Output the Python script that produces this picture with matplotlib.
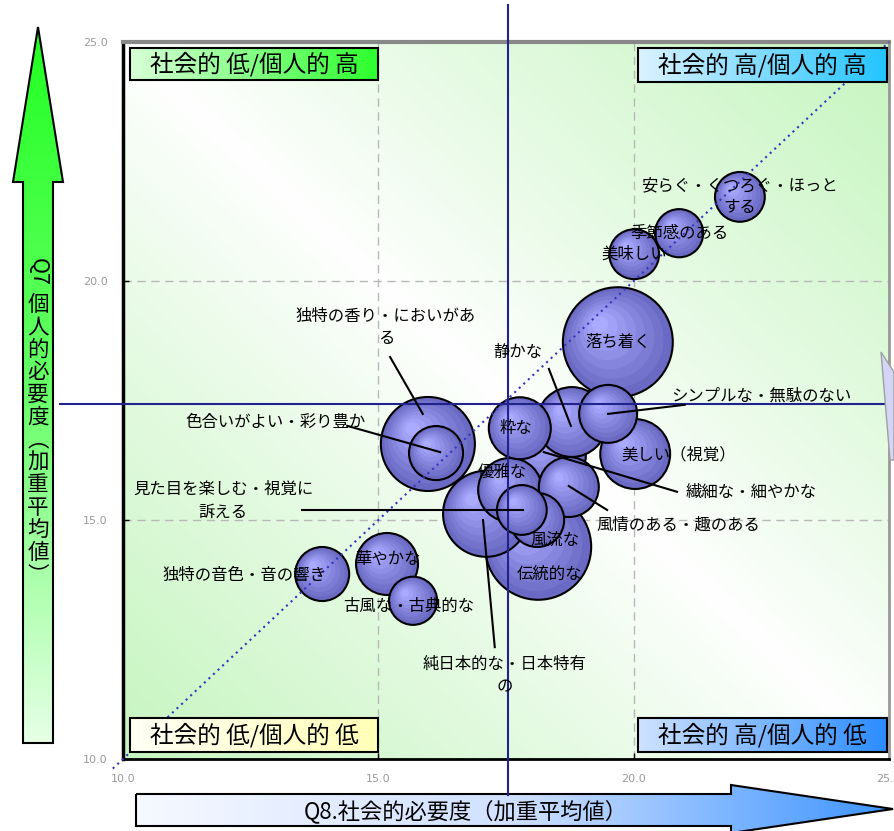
import numpy as np
import matplotlib
matplotlib.use("Agg")
import matplotlib.pyplot as plt
from matplotlib.patches import Polygon, Rectangle
from matplotlib.colors import LinearSegmentedColormap, to_rgb
from matplotlib.transforms import offset_copy

plt.rcParams['font.family'] = ['Noto Sans CJK JP', 'DejaVu Sans']

# ---- data ----
labels = [
    '安らぐ・くつろぐ・ほっと\nする', '季節感のある', '美味しい', '落ち着く',
    'シンプルな・無駄のない', '静かな', '粋な', '美しい（視覚）',
    '繊細な・細やかな', '風情のある・趣のある', '優雅な', '見た目を楽しむ・視覚に\n訴える',
    '風流な', '伝統的な', '純日本的な・日本特有\nの', '独特の香り・においがあ\nる',
    '色合いがよい・彩り豊か', '独特の音色・音の響き', '華やかな', '古風な・古典的な',
]
social = [22.08, 20.89, 20.01, 19.69, 19.50, 18.79, 17.77, 20.03, 18.32, 18.73,
          17.58, 17.81, 18.11, 18.13, 17.11, 15.97, 16.13, 13.90, 15.17, 15.68]
personal = [21.76, 21.00, 20.56, 18.72, 17.22, 17.05, 16.92, 16.38, 16.36, 15.69,
            15.63, 15.21, 15.00, 14.44, 15.13, 16.59, 16.40, 13.87, 14.08, 13.31]
sizes = [62, 58, 62, 302, 84, 122, 96, 122, 144, 90,
         102, 62, 73, 281, 185, 221, 73, 73, 96, 58]

mean_x = 17.54
mean_y = 17.43
ticks = [10, 15, 20, 25]
quadrants = ['社会的 低/個人的 高', '社会的 高/個人的 高', '社会的 低/個人的 低', '社会的 高/個人的 低']
xlabel = 'Q8.社会的必要度（加重平均値）'
ylabel_head = 'Q7'
ylabel_body = '個人的必要度︵加重平均値︶'

# ---- layout (label positions / leader lines, data coords) ----
label_pos = [
    (22.08, 21.76), (20.89, 21.00), (20.01, 20.56), (19.69, 18.72),
    (22.51, 17.59), (17.73, 18.51), (17.70, 16.92), (20.89, 16.36),
    (22.30, 15.59), (20.87, 14.90), (17.42, 15.98), (11.96, 15.40),
    (18.46, 14.58), (18.36, 13.87), (17.48, 11.74), (15.15, 19.02),
    (12.98, 17.05), (12.37, 13.83), (15.19, 14.18), (15.60, 13.20),
]
leaders = [
    ((15.23, 18.41), (15.87, 17.22)),
    ((14.39, 16.97), (16.21, 16.42)),
    ((13.50, 15.21), (17.83, 15.21)),
    ((17.28, 12.34), (17.05, 15.00)),
    ((18.34, 18.16), (18.77, 16.97)),
    ((20.85, 15.59), (18.24, 16.42)),
    ((19.48, 15.21), (18.73, 15.71)),
    ((21.00, 17.41), (19.50, 17.22)),
]
quad_boxes = [
    (10.14, 14.99, 24.21, 24.87, '#d8ffd8', '#2cff2c'),
    (20.08, 24.96, 24.16, 24.87, '#dcf2ff', '#22c4ff'),
    (10.14, 14.99, 10.15, 10.86, '#fffff6', '#ffffb8'),
    (20.08, 24.96, 10.15, 10.86, '#cfe2ff', '#2a8cff'),
]

W, H = 894, 831
fig = plt.figure(figsize=(W / 100, H / 100), dpi=100)

# background layer in pixel coords for the axis arrows
bg = fig.add_axes([0, 0, 1, 1], zorder=-1)
bg.set_xlim(0, W)
bg.set_ylim(H, 0)
bg.axis('off')


def grad_poly(axis, pts, colors, horizontal, extent):
    cmap = LinearSegmentedColormap.from_list('g', colors)
    g = np.linspace(0, 1, 256)
    g = g.reshape(1, -1) if horizontal else g.reshape(-1, 1)
    im = axis.imshow(g, cmap=cmap, extent=extent, aspect='auto', origin='upper',
                     interpolation='bilinear', zorder=1)
    poly = Polygon(pts, closed=True, fill=False, ec='black', lw=1.5, zorder=2)
    axis.add_patch(poly)
    im.set_clip_path(poly)


# y arrow (green)
yarrow = [(23, 743), (23, 182), (13, 182), (38, 27), (63, 182), (53, 182), (53, 743)]
grad_poly(bg, yarrow, ['#22ff22', '#66ff66', '#e6ffe6'], False, [13, 63, 743, 27])
bg.text(38, 272, ylabel_head, rotation=-90, ha='center', va='center', fontsize=15.5)
bg.text(38, 440, '\n'.join(ylabel_body), ha='center', va='center', fontsize=15.5,
        linespacing=1.03)

# x arrow (blue)
xarrow = [(136, 794), (731, 794), (731, 785), (893, 809), (731, 833), (731, 826), (136, 826)]
grad_poly(bg, xarrow, ['#f6f9ff', '#cfe0ff', '#3d94ff'], True, [136, 893, 833, 785])
bg.text(466, 811, xlabel, ha='center', va='center', fontsize=16)

# stray shape at the right edge
fig.add_artist(Polygon([(881, 352), (894, 372), (894, 460), (890, 460)], closed=True,
                       fc='#d4d4f6', ec='#a0a0a0', lw=1, transform=bg.transData))

# ---- main axes ----
ax = fig.add_axes([123 / W, 72 / H, 766 / W, 717 / H])
ax.set_xlim(10, 25)
ax.set_ylim(10, 25)

# plot area gradient: green toward bottom-left / top-right, white along the other diagonal
u, v = np.meshgrid(np.linspace(0, 1, 300), np.linspace(0, 1, 300))
f = np.abs(u + v - 1) ** 0.9
green = np.array(to_rgb('#c6f5c0'))
img = (1 - f)[..., None] * np.ones(3) + f[..., None] * green
ax.imshow(img, extent=[10, 25, 10, 25], origin='lower', aspect='auto', zorder=0)

ax.set_axisbelow(True)
ax.grid(True, ls=(0, (6, 4)), color='#b8b8b8', lw=1)
ax.set_xticks(ticks)
ax.set_yticks(ticks)
ax.set_xticklabels([f'{t:.1f}' for t in ticks], family='DejaVu Sans')
ax.set_yticklabels([f'{t:.1f}' for t in ticks], family='DejaVu Sans')
ax.tick_params(direction='in', length=4, width=1, labelsize=8, labelcolor='#999999', pad=11)
ax.spines['left'].set_linewidth(2.5)
ax.spines['bottom'].set_linewidth(2)
ax.spines['top'].set_color('#888888')
ax.spines['top'].set_linewidth(3)
ax.spines['right'].set_color('#999999')
ax.spines['right'].set_linewidth(2)

# bubbles: larger ones drawn first
dark = np.array(to_rgb('#6a6ac4'))
light = np.array(to_rgb('#aaaaff'))
n_layers = 8
order = np.argsort(-np.array(sizes), kind='stable')
for rank, i in enumerate(order):
    z = 3 + rank * 0.05
    R = np.sqrt(sizes[i] * 10) * 0.72
    for k, frac in enumerate(np.linspace(1, 0.15, n_layers)):
        t = k / (n_layers - 1)
        col = dark + (light - dark) * t
        off = (1 - frac) * R * 0.38
        tr = offset_copy(ax.transData, fig=fig, x=-off, y=off, units='points')
        ax.scatter([social[i]], [personal[i]], s=(2 * R * frac) ** 2, color=col,
                   edgecolors='none', transform=tr, zorder=z + k * 0.001)
    ax.scatter([social[i]], [personal[i]], s=(2 * R) ** 2, facecolors='none',
               edgecolors='black', linewidths=1.5, zorder=z + 0.01)

# diagonal and mean lines
ax.plot([9.8, 25], [9.8, 25], ls=(0, (1, 2)), color='#3535c0', lw=1.5, zorder=14, clip_on=False)
ax.plot([mean_x, mean_x], [9.25, 25.77], color='#22228c', lw=1.5, zorder=14, clip_on=False)
ax.plot([8.77, 25.2], [mean_y, mean_y], color='#22228c', lw=1.5, zorder=14, clip_on=False)

for (x0, y0), (x1, y1) in leaders:
    ax.plot([x0, x1], [y0, y1], color='black', lw=1.5, zorder=15)

for name, (lx, ly) in zip(labels, label_pos):
    ax.text(lx, ly, name, ha='center', va='center', fontsize=11.8, linespacing=1.4, zorder=16)

# quadrant caption boxes
for (x0, x1, y0, y1, c0, c1), txt in zip(quad_boxes, quadrants):
    cmap = LinearSegmentedColormap.from_list('q', [c0, c1])
    ax.imshow(np.linspace(0, 1, 256).reshape(1, -1), cmap=cmap, extent=[x0, x1, y0, y1],
              aspect='auto', origin='lower', zorder=20, interpolation='bilinear')
    ax.add_patch(Rectangle((x0, y0), x1 - x0, y1 - y0, fill=False, ec='black', lw=1.5, zorder=20.5))
    ax.text((x0 + x1) / 2, (y0 + y1) / 2, txt, ha='center', va='center', fontsize=17, zorder=21)

ax.set_xlim(10, 25)
ax.set_ylim(10, 25)

fig.savefig('out.png', dpi=100)
